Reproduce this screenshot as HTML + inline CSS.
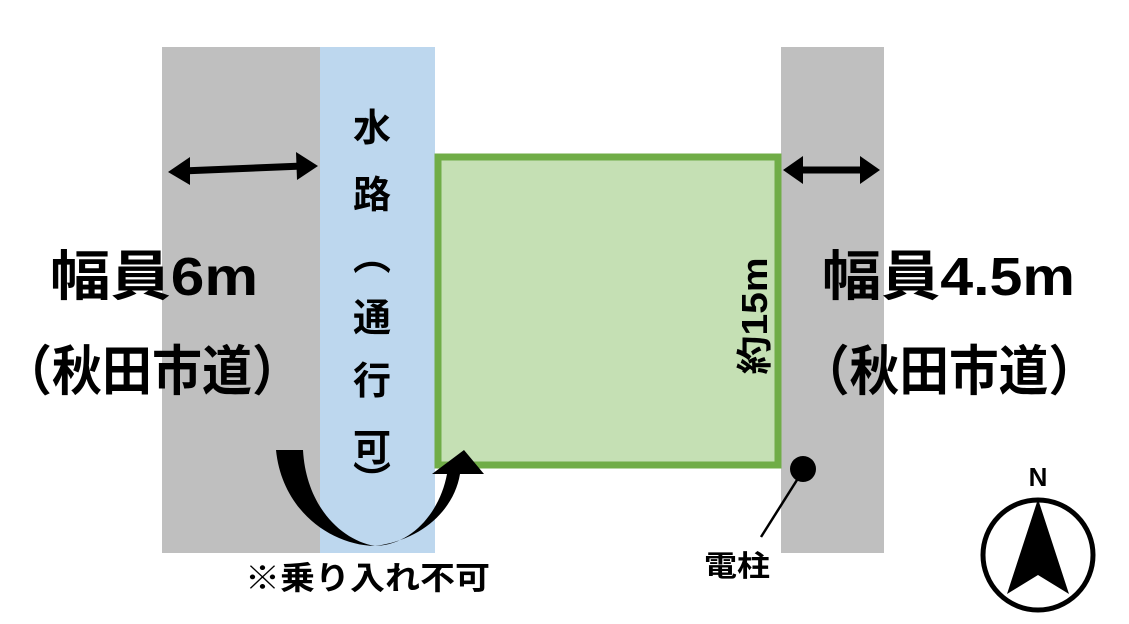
<!DOCTYPE html>
<html><head><meta charset="utf-8"><style>
html,body{margin:0;padding:0;background:#fff;width:1129px;height:624px;overflow:hidden}
svg{display:block}
text{font-family:"Liberation Sans","Noto Sans CJK JP",sans-serif;font-weight:bold;fill:#000}
</style></head><body>
<svg width="1129" height="624" viewBox="0 0 1129 624">
<rect x="162" y="47" width="158" height="506" fill="#bfbfbf"/>
<rect x="320" y="47" width="115" height="506" fill="#bdd7ee"/>
<rect x="781" y="47" width="103" height="506" fill="#bfbfbf"/>
<rect x="438" y="157" width="340" height="308" fill="#c5e0b4" stroke="#70ad47" stroke-width="7"/>
<line x1="182" y1="171" x2="303" y2="166" stroke="#000" stroke-width="7"/>
<path d="M168,172 L190,157 L190,185 Z" fill="#000"/>
<path d="M318,166 L296,152 L297,180 Z" fill="#000"/>
<line x1="797" y1="170" x2="866" y2="170" stroke="#000" stroke-width="7"/>
<path d="M783,170 L803,156 L803,184 Z" fill="#000"/>
<path d="M880,170 L860,156 L860,184 Z" fill="#000"/>
<text x="50" y="295" font-size="54" textLength="208" lengthAdjust="spacingAndGlyphs">幅員6m</text>
<text x="2" y="390" font-size="54" textLength="300" lengthAdjust="spacingAndGlyphs">（秋田市道）</text>
<text x="822" y="295" font-size="54" textLength="253" lengthAdjust="spacingAndGlyphs">幅員4.5m</text>
<text x="800" y="390" font-size="54" textLength="298" lengthAdjust="spacingAndGlyphs">（秋田市道）</text>
<g font-size="38" text-anchor="middle">
<text x="372" y="141">水</text>
<text x="372" y="208">路</text>
<text x="372" y="270" font-weight="normal">︵</text>
<text x="372" y="331">通</text>
<text x="372" y="394">行</text>
<text x="372" y="461">可</text>
<text x="372" y="494" font-weight="normal">︶</text>
</g>
<text transform="translate(767,316) rotate(-90)" font-size="36" text-anchor="middle" textLength="117" lengthAdjust="spacingAndGlyphs">約15m</text>
<path d="M276,450 L303,450 C306,505 340,540 375,546 C422,540 454,510 460,474 L484,474 L464,450 L432,474 L447,474 C440,512 412,545 375,546 C330,545 282,510 276,450 Z" fill="#000"/>
<circle cx="803" cy="469" r="13" fill="#000"/>
<line x1="797" y1="480" x2="761" y2="537" stroke="#000" stroke-width="2.5"/>
<text x="704" y="576" font-size="29" textLength="66" lengthAdjust="spacingAndGlyphs">電柱</text>
<text x="245" y="589" font-size="32" textLength="245" lengthAdjust="spacingAndGlyphs">※乗り入れ不可</text>
<text x="1038" y="486" font-size="26" text-anchor="middle">N</text>
<circle cx="1038" cy="555" r="55" fill="none" stroke="#000" stroke-width="5"/>
<path d="M1038,499 L1007,594 L1038,575 L1069,594 Z" fill="#000"/>
</svg>
</body></html>
